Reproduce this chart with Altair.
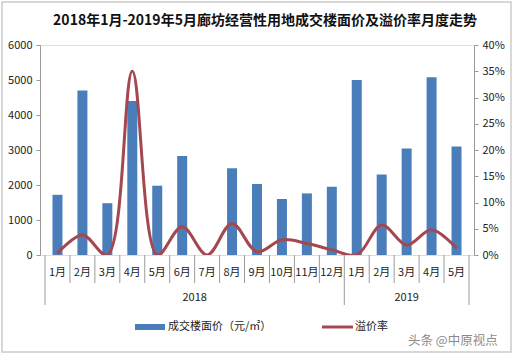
import altair as alt
import pandas as pd

title_text = "2018年1月-2019年5月廊坊经营性用地成交楼面价及溢价率月度走势"
months = ["1月", "2月", "3月", "4月", "5月", "6月", "7月", "8月", "9月", "10月", "11月", "12月",
          "1月", "2月", "3月", "4月", "5月"]
years = ["2018"] * 12 + ["2019"] * 5
price = [1720, 4700, 1480, 4400, 1980, 2830, 0, 2480, 2030, 1600, 1760, 1950,
         5000, 2300, 3040, 5080, 3100]
premium_pct = [0.3, 3.8, 0.0, 35.0, 0.0, 5.4, 0.0, 6.0, 0.6, 2.9, 2.2, 1.0,
               0.0, 5.7, 1.9, 4.8, 1.3]
year_labels = ["2018", "2019"]
year_counts = [12, 5]
left_ticks = [0, 1000, 2000, 3000, 4000, 5000, 6000]
right_ticks = [0, 0.05, 0.10, 0.15, 0.20, 0.25, 0.30, 0.35, 0.40]
legend_bar = "成交楼面价（元/㎡）"
legend_line = "溢价率"
watermark = "头条 @中原视点"

W, H = 434, 210
BLUE = "#4A7EBB"
RED = "#A5474E"
GRAY = "#9a9a9a"
FONT = "Noto Sans CJK SC"

n = len(months)
df = pd.DataFrame({
    "pos": [i + 0.5 for i in range(n)],
    "month": months,
    "year": years,
    "price": price,
    "rate": [p / 100 for p in premium_pct],
})

bounds = [0]
for c in year_counts:
    bounds.append(bounds[-1] + c)
year_df = pd.DataFrame({
    "pos": [(bounds[i] + bounds[i + 1]) / 2 for i in range(len(year_labels))],
    "label": year_labels,
})
long_sep = pd.DataFrame({"pos": bounds})
short_sep = pd.DataFrame({"pos": [i for i in range(1, n) if i not in bounds]})

xscale = alt.Scale(domain=[0, n], nice=False, zero=False)
x_enc = alt.X("pos:Q", scale=xscale, axis=None)

bars = alt.Chart(df).mark_bar(size=10, color=BLUE).encode(
    x=alt.X("pos:Q", scale=xscale,
            axis=alt.Axis(values=[0], labels=False, ticks=False, grid=False, title=None,
                          domainColor=GRAY)),
    y=alt.Y("price:Q", scale=alt.Scale(domain=[0, 6000], nice=False),
            axis=alt.Axis(values=left_ticks, format="d", title=None, grid=False, tickSize=4,
                          tickColor=GRAY, domainColor=GRAY, labelFontSize=11,
                          labelColor="#222", labelPadding=4)),
)

line = alt.Chart(df).mark_line(interpolate="catmull-rom", color=RED, strokeWidth=3,
                               clip=True).encode(
    x=x_enc,
    y=alt.Y("rate:Q", scale=alt.Scale(domain=[0, 0.4], nice=False),
            axis=alt.Axis(orient="right", values=right_ticks, format=".0%", title=None,
                          grid=False, tickSize=4, tickColor=GRAY, domainColor=GRAY,
                          labelFontSize=11, labelColor="#222", labelPadding=4)),
)

month_text = alt.Chart(df).mark_text(fontSize=11, color="#222", font=FONT).encode(
    x=x_enc, y=alt.value(H + 18), text="month:N")

short_rules = alt.Chart(short_sep).mark_rule(color=GRAY, strokeWidth=1).encode(
    x=x_enc, y=alt.value(H), y2=alt.value(H + 28))
long_rules = alt.Chart(long_sep).mark_rule(color=GRAY, strokeWidth=1).encode(
    x=x_enc, y=alt.value(H), y2=alt.value(H + 50))

year_text = alt.Chart(year_df).mark_text(fontSize=11, color="#222", font=FONT).encode(
    x=x_enc, y=alt.value(H + 43), text="label:N")

one = pd.DataFrame({"a": [0]})
title = alt.Chart(one).mark_text(fontSize=14, fontWeight="bold", color="#111",
                                 font=FONT).encode(
    x=alt.value(225), y=alt.value(-24), text=alt.value(title_text))

leg_rect = alt.Chart(one).mark_rect(color=BLUE).encode(
    x=alt.value(95), x2=alt.value(125), y=alt.value(H + 69), y2=alt.value(H + 75))
leg_rect_t = alt.Chart(one).mark_text(align="left", fontSize=11, color="#222",
                                      font=FONT).encode(
    x=alt.value(128), y=alt.value(H + 72), text=alt.value(legend_bar))
leg_line = alt.Chart(one).mark_rule(color=RED, strokeWidth=3).encode(
    x=alt.value(282), x2=alt.value(313), y=alt.value(H + 72))
leg_line_t = alt.Chart(one).mark_text(align="left", fontSize=11, color="#222",
                                      font=FONT).encode(
    x=alt.value(315), y=alt.value(H + 72), text=alt.value(legend_line))
wm = alt.Chart(one).mark_text(align="left", fontSize=12.5, color="#8a8a8a",
                              font=FONT).encode(
    x=alt.value(368), y=alt.value(H + 86), text=alt.value(watermark))

frame = alt.Chart(one).mark_rect(filled=False, stroke="#cccccc", strokeWidth=1.5).encode(
    x=alt.value(-38), x2=alt.value(W + 37), y=alt.value(-43), y2=alt.value(H + 97))

chart = alt.layer(
    frame, bars, line, short_rules, long_rules, month_text, year_text, title,
    leg_rect, leg_rect_t, leg_line, leg_line_t, wm,
).resolve_scale(y="independent").properties(
    width=W, height=H,
    autosize=alt.AutoSizeParams(type="none"),
    padding={"left": 40, "top": 45, "right": 39, "bottom": 100},
    background="white",
).configure_view(stroke=None).configure(font=FONT)

chart.save("out.html", embed_options={"renderer": "svg", "actions": False})
